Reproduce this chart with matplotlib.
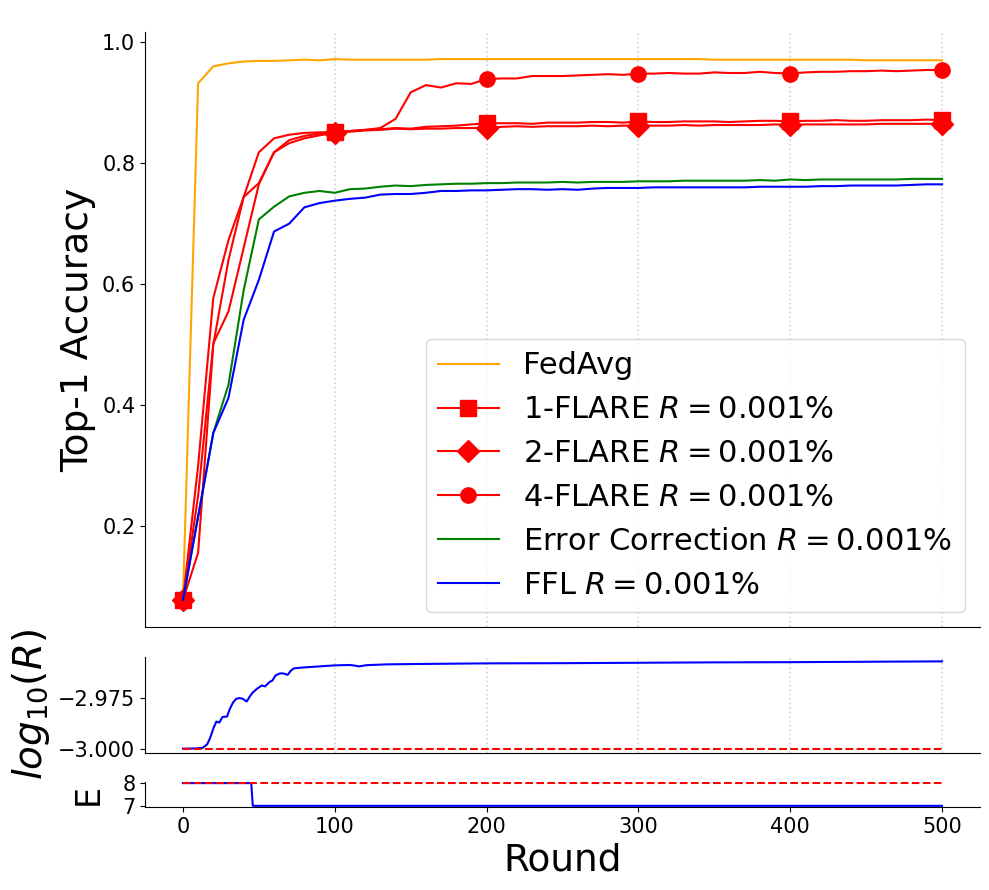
import numpy as np
import matplotlib
matplotlib.use("Agg")
import matplotlib.pyplot as plt

# rounds sampled every 10 for the accuracy curves
rounds = np.arange(0, 501, 10)

fedavg = [0.078, 0.932, 0.960, 0.965, 0.968, 0.969, 0.969, 0.970, 0.971, 0.970, 0.972,
          0.971, 0.971, 0.971, 0.971, 0.971, 0.971, 0.972, 0.972, 0.972, 0.972,
          0.972, 0.972, 0.972, 0.972, 0.972, 0.972, 0.972, 0.972, 0.972, 0.972,
          0.972, 0.972, 0.972, 0.972, 0.971, 0.971, 0.971, 0.971, 0.971, 0.971,
          0.971, 0.971, 0.971, 0.971, 0.970, 0.970, 0.970, 0.970, 0.970, 0.970]

flare1 = [0.078, 0.300, 0.577, 0.673, 0.744, 0.818, 0.841, 0.847, 0.850, 0.851, 0.851,
          0.853, 0.855, 0.856, 0.858, 0.857, 0.860, 0.861, 0.862, 0.864, 0.866,
          0.866, 0.866, 0.865, 0.867, 0.867, 0.867, 0.868, 0.868, 0.867, 0.869,
          0.868, 0.868, 0.869, 0.869, 0.869, 0.868, 0.869, 0.870, 0.870, 0.869,
          0.870, 0.870, 0.871, 0.870, 0.870, 0.871, 0.871, 0.871, 0.872, 0.871]

flare2 = [0.078, 0.156, 0.500, 0.640, 0.744, 0.767, 0.818, 0.833, 0.841, 0.846, 0.850,
          0.852, 0.854, 0.855, 0.857, 0.856, 0.857, 0.857, 0.858, 0.858, 0.858,
          0.860, 0.861, 0.860, 0.861, 0.861, 0.861, 0.862, 0.861, 0.862, 0.862,
          0.862, 0.862, 0.863, 0.862, 0.863, 0.863, 0.863, 0.863, 0.864, 0.863,
          0.864, 0.864, 0.864, 0.864, 0.864, 0.865, 0.865, 0.865, 0.865, 0.865]

flare4 = [0.078, 0.250, 0.502, 0.555, 0.660, 0.765, 0.818, 0.838, 0.845, 0.849, 0.851,
          0.853, 0.855, 0.858, 0.873, 0.917, 0.929, 0.925, 0.932, 0.931, 0.939,
          0.940, 0.940, 0.944, 0.944, 0.944, 0.945, 0.946, 0.947, 0.946, 0.948,
          0.948, 0.949, 0.948, 0.948, 0.950, 0.949, 0.949, 0.951, 0.949, 0.948,
          0.950, 0.951, 0.951, 0.952, 0.952, 0.953, 0.952, 0.953, 0.954, 0.954]

err_corr = [0.078, 0.216, 0.354, 0.434, 0.590, 0.707, 0.728, 0.745, 0.751, 0.754, 0.751,
            0.757, 0.758, 0.761, 0.763, 0.762, 0.764, 0.765, 0.766, 0.766, 0.767,
            0.767, 0.768, 0.768, 0.768, 0.769, 0.768, 0.769, 0.769, 0.769, 0.770,
            0.770, 0.770, 0.771, 0.771, 0.771, 0.771, 0.771, 0.772, 0.771, 0.773,
            0.772, 0.773, 0.773, 0.773, 0.773, 0.773, 0.773, 0.774, 0.774, 0.774]

ffl = [0.078, 0.216, 0.354, 0.412, 0.541, 0.607, 0.687, 0.700, 0.727, 0.734, 0.738,
       0.741, 0.743, 0.748, 0.749, 0.749, 0.751, 0.754, 0.754, 0.755, 0.755,
       0.756, 0.757, 0.757, 0.756, 0.757, 0.756, 0.758, 0.759, 0.759, 0.759,
       0.760, 0.760, 0.760, 0.760, 0.760, 0.760, 0.760, 0.761, 0.761, 0.761,
       0.761, 0.762, 0.762, 0.763, 0.763, 0.763, 0.763, 0.764, 0.765, 0.765]

# FFL compression ratio (log10) per round
logr_rounds = [0, 8, 13, 16, 18, 20, 22, 24, 26, 29, 31, 33, 35, 37, 39, 42, 44, 46,
               49, 52, 54, 57, 59, 61, 64, 66, 69, 71, 73, 77, 80, 90, 100, 110, 113,
               116, 121, 134, 156, 200, 250, 300, 350, 400, 450, 500]
logr_ffl = [-3.0000, -2.9999, -2.9996, -2.9978, -2.9945, -2.9900, -2.9865, -2.9870,
            -2.9842, -2.9840, -2.9800, -2.9770, -2.9752, -2.9748, -2.9750, -2.9765,
            -2.9740, -2.9720, -2.9700, -2.9685, -2.9690, -2.9668, -2.9660, -2.9635,
            -2.9625, -2.9625, -2.9632, -2.9612, -2.9600, -2.9597, -2.9595, -2.9590,
            -2.9585, -2.9583, -2.9586, -2.9590, -2.9584, -2.9580, -2.9578, -2.9575,
            -2.9574, -2.9572, -2.9570, -2.9569, -2.9567, -2.9565]
logr_fixed = -3.0

# local epochs
e_rounds = [0, 45, 46, 500]
e_ffl = [8, 8, 7, 7]
e_fixed = 8

lbl = r"$R=0.001\%$"

fig = plt.figure(figsize=(9.89, 8.9), dpi=100)
ax1 = fig.add_axes([0.1466, 0.2955, 0.8443, 0.6685])
ax2 = fig.add_axes([0.1466, 0.1539, 0.8443, 0.1079])
ax3 = fig.add_axes([0.1466, 0.0933, 0.8443, 0.0281])

ax1.plot(rounds, fedavg, color="orange", lw=1.5, label="FedAvg")
ax1.plot(rounds, flare1, color="red", lw=1.5, marker="s", ms=11, markevery=10,
         label="1-FLARE " + lbl)
ax1.plot(rounds, flare2, color="red", lw=1.5, marker="D", ms=11, markevery=10,
         label="2-FLARE " + lbl)
ax1.plot(rounds, flare4, color="red", lw=1.5, marker="o", ms=11, markevery=10,
         label="4-FLARE " + lbl)
ax1.plot(rounds, err_corr, color="green", lw=1.5, label="Error Correction " + lbl)
ax1.plot(rounds, ffl, color="blue", lw=1.5, label="FFL " + lbl)
ax1.set_ylabel("Top-1 Accuracy", fontsize=27)
ax1.legend(loc="lower right", fontsize=22, labelspacing=0.485)

ax2.plot(logr_rounds, logr_ffl, color="blue", lw=1.5)
ax2.plot([0, 500], [logr_fixed, logr_fixed], color="red", ls="--", lw=1.5)
ax2.set_yticks([-3.0, -2.975])
ax2.set_yticklabels(["\u22123.000", "\u22122.975"])
ax2.set_ylabel(r"$log_{10}(R)$", fontsize=28)

ax3.plot(e_rounds, e_ffl, color="blue", lw=1.5)
ax3.plot([0, 500], [e_fixed, e_fixed], color="red", ls="--", lw=1.5)
ax3.set_yticks([7, 8])
ax3.set_ylabel("E", fontsize=24)
ax3.yaxis.set_label_coords(-0.048, 0.5)
ax3.set_xlabel("Round", fontsize=27)

for ax in (ax1, ax2):
    for r in range(100, 501, 100):
        ax.axvline(r, color="lightgrey", ls=":", lw=1.2, zorder=0)
    ax.tick_params(axis="x", bottom=False, labelbottom=False)

for ax in (ax1, ax2, ax3):
    ax.set_xlim(-25, 525)
    ax.spines["top"].set_visible(False)
    ax.spines["right"].set_visible(False)
    ax.tick_params(labelsize=15)

fig.savefig("out.png", dpi=100)
